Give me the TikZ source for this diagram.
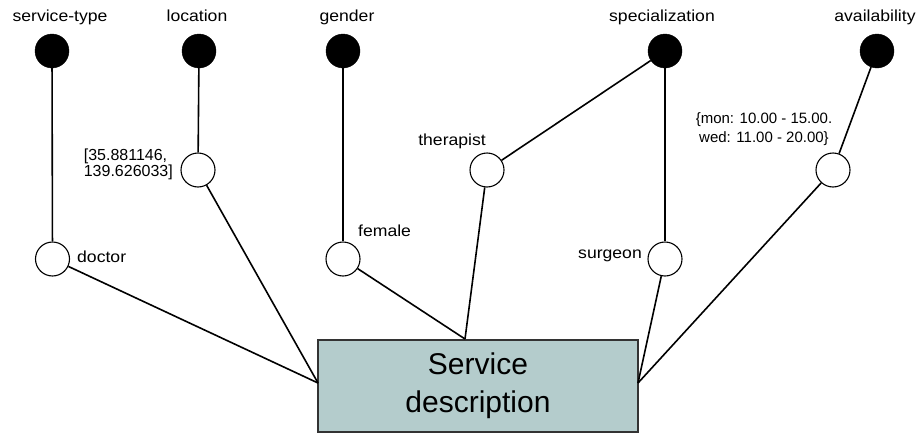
\documentclass[tikz,border=0pt]{standalone}
\usepackage{fontspec}
\setmainfont{Liberation Sans}
\newfontfamily\widefont[FakeStretch=1.1]{Liberation Sans}
\definecolor{boxfill}{HTML}{B4CCCC}
\definecolor{boxline}{HTML}{333333}
\begin{document}
\begin{tikzpicture}[x=1pt,y=-1pt,
  attr/.style={circle,fill=black,draw=black,minimum size=34pt,inner sep=0pt},
  val/.style={circle,draw=black,line width=1.1pt,fill=white,minimum size=34pt,inner sep=0pt},
  lbl/.style={font=\widefont\fontsize{16}{16}\selectfont,inner sep=0pt},
  edge/.style={line width=1.6pt,black}]
\useasboundingbox (0,0) rectangle (921,434);
% box
\node[draw=boxline,fill=boxfill,line width=2pt,minimum width=320pt,minimum height=92pt,inner sep=0pt,
      align=center,font=\fontsize{30}{38}\selectfont] (box) at (478,385.5) {Service\\description};
\coordinate (bw) at (318,383);
\coordinate (bt) at (465,339);
\coordinate (be) at (638,383);
% attribute nodes
\node[attr] (st) at (52,51) {};
\node[attr] (loc) at (199,51) {};
\node[attr] (gen) at (343,51) {};
\node[attr] (spec) at (665,51) {};
\node[attr] (avail) at (877,51) {};
% attribute labels
\node[lbl,anchor=base] (tst) at (60,21) {service-type};
\node[lbl,anchor=base] (tloc) at (197,21) {location};
\node[lbl,anchor=base] (tgen) at (347,21) {gender};
\node[lbl,anchor=base] (tspec) at (662,21) {specialization};
\node[lbl,anchor=base] (tavail) at (875,21) {availability};
% value nodes
\node[val] (doc) at (52.5,259) {};
\node[val] (locv) at (198,170) {};
\node[val] (fem) at (343,259) {};
\node[val] (ther) at (487,170) {};
\node[val] (surg) at (665,259) {};
\node[val] (availv) at (833,170) {};
% value labels
\node[lbl,anchor=west] (tdoc) at (77,257) {doctor};
\node[lbl,anchor=east,align=left,font=\fontsize{16}{16}\selectfont] (tlocv) at (173,164) {[35.881146,\\139.626033]};
\node[lbl,anchor=west] (tfem) at (358,231) {female};
\node[lbl,anchor=east] (tther) at (486,141) {therapist};
\node[lbl,anchor=east] (tsurg) at (642,256) {surgeon};
\node[lbl,align=center,font=\fontsize{15}{19}\selectfont] (tavailv) at (764,129) {\{mon: 10.00 - 15.00.\\wed: 11.00 - 20.00\}};
% edges
\draw[edge] (st) -- (doc);
\draw[edge] (loc) -- (locv);
\draw[edge] (gen) -- (fem);
\draw[edge] (spec) -- (ther);
\draw[edge] (spec) -- (surg);
\draw[edge] (avail) -- (availv);
\draw[edge] (doc) -- (bw);
\draw[edge] (locv) -- (bw);
\draw[edge] (fem) -- (bt);
\draw[edge] (ther) -- (bt);
\draw[edge] (surg) -- (be);
\draw[edge] (availv) -- (be);
\end{tikzpicture}
\end{document}
